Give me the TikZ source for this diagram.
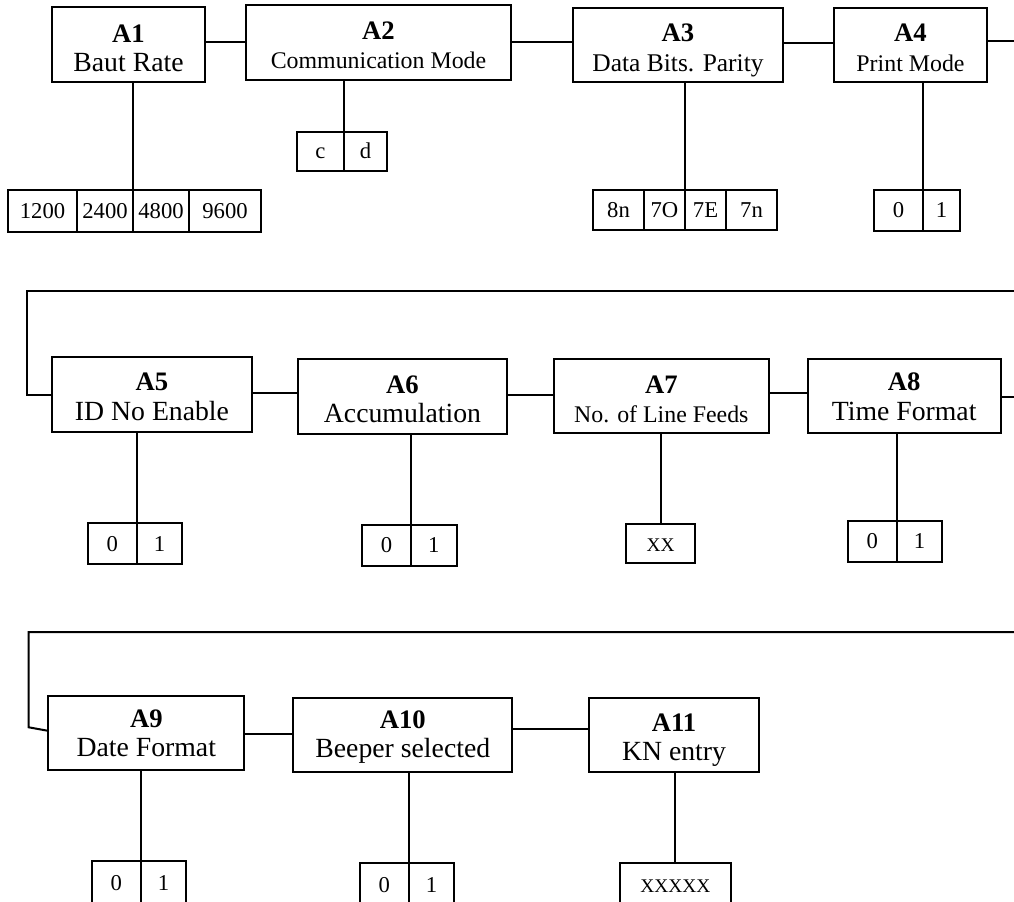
\documentclass[tikz,border=0pt]{standalone}
\usepackage{fontspec}
\setmainfont{Liberation Serif}
\newcommand\fbig{\fontsize{20.8}{24}\selectfont}
\newcommand\fmid{\fontsize{17.9}{21}\selectfont}
\newcommand\fdbp{\fontsize{19.1}{22}\selectfont}
\newcommand\fopt{\fontsize{17}{19}\selectfont}
\newcommand\fxx{\fontsize{14.5}{16}\selectfont}
\tikzset{
  boxs/.style={draw, line width=1.5pt, inner sep=0pt, outer sep=0pt},
  optcell/.style={boxs, font=\fopt, text height=11.2pt, text depth=0pt},
  labs/.style={font=\fontsize{20}{22}\selectfont\bfseries, inner sep=0pt},
  subs/.style={inner sep=0pt},
  conn/.style={line width=1.5pt},
}
% box: name, x1, y1, x2, y2, label baseline, label, subtitle baseline, subtitle
\newcommand\MkBox[9]{%
  \node[boxs, minimum width={(#4-#2)*0.75pt}, minimum height={(#5-#3)*0.75pt}] (#1) at ({(#2+#4)/2},{(#3+#5)/2}) {};
  \node[labs, anchor=base] (#1l) at ({(#2+#4)/2},#6) {#7};
  \node[subs, anchor=base] (#1s) at ({(#2+#4)/2},#8) {#9};
}
% option cell: name, x1, y1, x2, y2, text
\newcommand\MkCell[6]{%
  \node[optcell, minimum width={(#4-#2)*0.75pt}, minimum height={(#5-#3)*0.75pt}] (#1) at ({(#2+#4)/2},{(#3+#5)/2}) {#6};
}
\begin{document}
\begin{tikzpicture}[x=0.75pt,y=-0.75pt]
\useasboundingbox (0,0) rectangle (1014,902);
\fill[white] (0,0) rectangle (1014,902);

% ---------- Row 1 ----------
\MkBox{a1}{52}{7}{205}{82}{42.7}{A1}{72}{\fbig Baut Rate}
\MkBox{a2}{246}{5}{511}{80}{40}{A2}{69}{\fmid Communication Mode}
\MkBox{a3}{573}{8}{783}{82}{41.7}{A3}{71.7}{\fdbp Data Bits. Parity}
\MkBox{a4}{834}{8}{987}{82}{41.7}{A4}{71.7}{\fmid Print Mode}

\MkCell{o1a}{8}{190}{77}{232}{1200}
\MkCell{o1b}{77}{190}{133}{232}{2400}
\MkCell{o1c}{133}{190}{189}{232}{4800}
\MkCell{o1d}{189}{190}{261}{232}{9600}
\MkCell{o2a}{297}{132}{344}{171}{c}
\MkCell{o2b}{344}{132}{387}{171}{d}
\MkCell{o3a}{593}{190}{644}{230}{8n}
\MkCell{o3b}{644}{190}{685}{230}{7O}
\MkCell{o3c}{685}{190}{726}{230}{7E}
\MkCell{o3d}{726}{190}{777}{230}{7n}
\MkCell{o4a}{874}{190}{923}{231}{0}
\MkCell{o4b}{923}{190}{960}{231}{1}

\coordinate (e1) at (1014,41);
\draw[conn] ([yshift=1.9pt]a1.east) -- ([yshift=1.9pt]a1.east -| a2.west);
\draw[conn] (a2.east) -- (a2.east -| a3.west);
\draw[conn] ([yshift=1.7pt]a3.east) -- ([yshift=1.7pt]a3.east -| a4.west);
\draw[conn] (a4.east |- e1) -- (e1);
\draw[conn] (a1.south -| o1c.north west) -- (o1c.north west);
\draw[conn] (a2.south -| o2b.north west) -- (o2b.north west);
\draw[conn] (a3.south -| o3c.north west) -- (o3c.north west);
\draw[conn] (a4.south -| o4b.north west) -- (o4b.north west);

% ---------- Row 2 ----------
\MkBox{a5}{52}{357.3}{252}{431.7}{390.7}{A5}{420.7}{\fbig ID No Enable}
\MkBox{a6}{298}{359.3}{507}{433.7}{393.3}{A6}{422.7}{\fbig Accumulation}
\MkBox{a7}{554}{359.3}{768.7}{433.3}{393.3}{A7}{422.7}{\fmid No. of Line Feeds}
\MkBox{a8}{807.7}{359.3}{1000.7}{433.3}{390}{A8}{420}{\fbig Time Format}

\MkCell{o5a}{87.7}{523.3}{137}{564}{0}
\MkCell{o5b}{137}{523.3}{182.3}{564}{1}
\MkCell{o6a}{362}{525}{411}{565.7}{0}
\MkCell{o6b}{411}{525}{456.7}{565.7}{1}
\MkCell{o7}{626}{524.3}{695}{563.3}{\fxx XX}
\MkCell{o8a}{847.7}{521}{896.7}{562}{0}
\MkCell{o8b}{896.7}{521}{942.3}{562}{1}

\coordinate (r2s) at (1014,290.7);
\coordinate (k2) at (27,394.5);
\coordinate (e2) at (1014,396.7);
\draw[conn] (r2s) -| (k2) -- (a5.west);
\draw[conn] ([yshift=1.3pt]a5.east) -- ([yshift=1.3pt]a5.east -| a6.west);
\draw[conn] ([yshift=1.1pt]a6.east) -- ([yshift=1.1pt]a6.east -| a7.west);
\draw[conn] ([yshift=2.7pt]a7.east) -- ([yshift=2.7pt]a7.east -| a8.west);
\draw[conn] (a8.east |- e2) -- (e2);
\draw[conn] (a5.south -| o5b.north west) -- (o5b.north west);
\draw[conn] (a6.south -| o6b.north west) -- (o6b.north west);
\draw[conn] (a7.south -| o7.north) -- (o7.north);
\draw[conn] (a8.south -| o8b.north west) -- (o8b.north west);

% ---------- Row 3 ----------
\MkBox{a9}{48.3}{695.7}{244.3}{770}{727.3}{A9}{756.7}{\fbig Date Format}
\MkBox{a10}{293.3}{697.7}{512.3}{771.7}{728.3}{A10}{757.3}{\fbig Beeper selected}
\MkBox{a11}{589.3}{697.7}{758.7}{772}{731.7}{A11}{760}{\fbig KN entry}

\MkCell{o9a}{91.7}{860.7}{141}{906}{0}
\MkCell{o9b}{141}{860.7}{186}{906}{1}
\MkCell{o10a}{360}{863.3}{408.7}{906}{0}
\MkCell{o10b}{408.7}{863.3}{454.3}{906}{1}
\MkCell{o11}{620}{863.3}{730.7}{906}{\fxx XXXXX}

\coordinate (r3s) at (1014,632);
\coordinate (k3) at (28.7,727.3);
\draw[conn] (r3s) -| (k3) -- ([yshift=1.5pt]a9.west);
\draw[conn] ([yshift=-0.8pt]a9.east) -- ([yshift=-0.8pt]a9.east -| a10.west);
\draw[conn] ([yshift=4pt]a10.east) -- ([yshift=4pt]a10.east -| a11.west);
\draw[conn] (a9.south -| o9b.north west) -- (o9b.north west);
\draw[conn] (a10.south -| o10b.north west) -- (o10b.north west);
\draw[conn] (a11.south -| o11.north) -- (o11.north);
\end{tikzpicture}
\end{document}
